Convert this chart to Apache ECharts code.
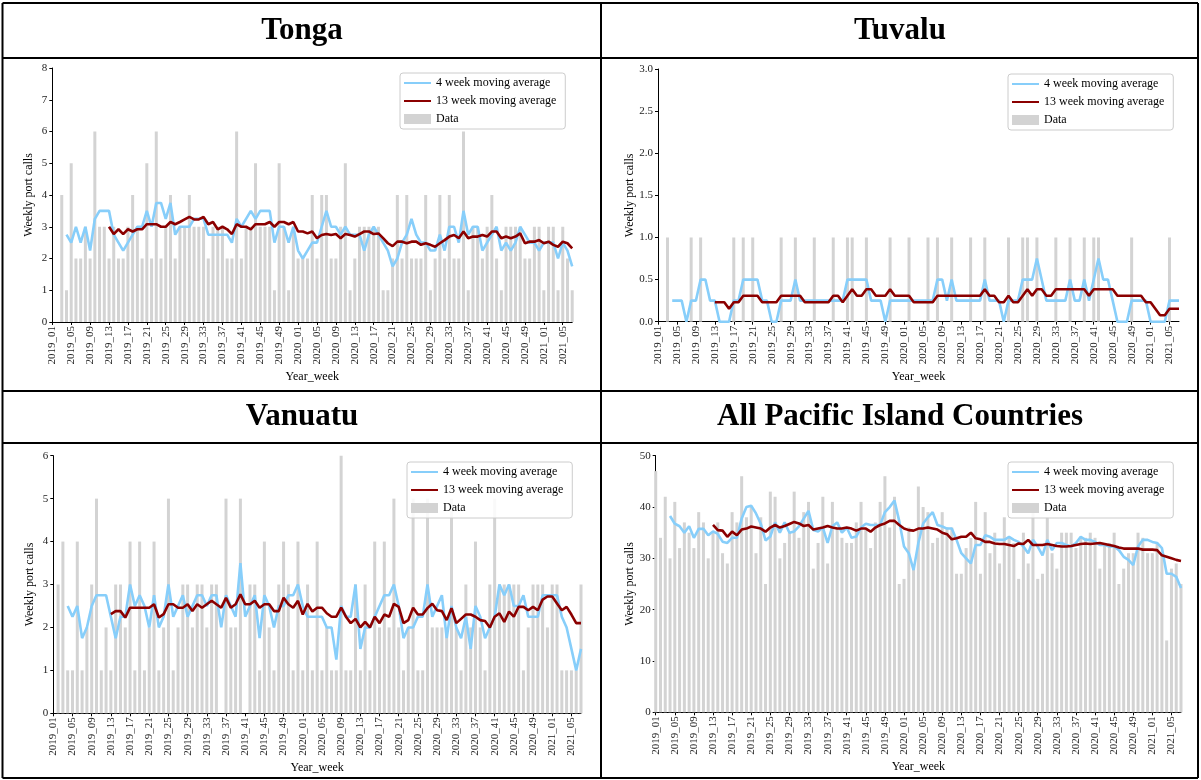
<!DOCTYPE html>
<html><head><meta charset="utf-8">
<script src="https://cdn.jsdelivr.net/npm/echarts@6/dist/echarts.min.js"></script>
<style>html,body{margin:0;padding:0;background:#fff}#c{width:1201px;height:780px}</style>
</head><body><div id="c"></div>
<script>
const weeks = ["2019_01","2019_02","2019_03","2019_04","2019_05","2019_06","2019_07","2019_08","2019_09","2019_10","2019_11","2019_12","2019_13","2019_14","2019_15","2019_16","2019_17","2019_18","2019_19","2019_20","2019_21","2019_22","2019_23","2019_24","2019_25","2019_26","2019_27","2019_28","2019_29","2019_30","2019_31","2019_32","2019_33","2019_34","2019_35","2019_36","2019_37","2019_38","2019_39","2019_40","2019_41","2019_42","2019_43","2019_44","2019_45","2019_46","2019_47","2019_48","2019_49","2019_50","2019_51","2019_52",
"2020_01","2020_02","2020_03","2020_04","2020_05","2020_06","2020_07","2020_08","2020_09","2020_10","2020_11","2020_12","2020_13","2020_14","2020_15","2020_16","2020_17","2020_18","2020_19","2020_20","2020_21","2020_22","2020_23","2020_24","2020_25","2020_26","2020_27","2020_28","2020_29","2020_30","2020_31","2020_32","2020_33","2020_34","2020_35","2020_36","2020_37","2020_38","2020_39","2020_40","2020_41","2020_42","2020_43","2020_44","2020_45","2020_46","2020_47","2020_48","2020_49","2020_50","2020_51","2020_52",
"2021_01","2021_02","2021_03","2021_04","2021_05","2021_06","2021_07"];

// Tonga
const tongaData = [0,0,4,1,5,2,2,3,2,6, 3,3,2,3,2,2,3,4,3,2, 5,2,6,2,3,4,2,3,3,4, 3,3,3,2,3,3,3,2,2,6, 2,3,3,5,3,3,3,1,5,3, 1,3,2,2,2,4,2,4,4,2, 2,3,5,1,2,3,3,3,3,3, 1,1,2,4,2,4,2,2,2,4, 1,2,4,2,4,2,2,6,1,3, 3,2,3,4,2,1,3,3,3,3, 2,2,3,3,1,3,3,1,3,2, 1];
const tongaMA4 = [2.75,2.5,3.0,2.5,3.0,2.25,3.25,3.5,3.5,3.5, 2.75,2.5,2.25,2.5,2.75,3.0,3.0,3.5,3.0,3.75, 3.75,3.25,3.75,2.75,3.0,3.0,3.0,3.25,3.25,3.25, 2.75,2.75,2.75,2.75,2.75,2.5,3.25,3.0,3.25,3.5, 3.25,3.5,3.5,3.5,2.5,3.0,3.0,2.5,3.0,2.25, 2.0,2.25,2.5,2.5,3.0,3.5,3.0,3.0,2.75,3.0, 2.75,2.75,2.75,2.25,2.75,3.0,2.75,2.5,2.25,1.75, 2.0,2.5,2.75,3.25,2.75,2.5,2.5,2.25,2.25,2.75, 2.25,3.0,3.0,2.5,3.5,2.75,3.0,3.0,2.25,2.5, 2.75,3.0,2.25,2.5,2.25,2.5,3.0,2.75,2.5,2.5, 2.25,2.5,2.5,2.5,2.0,2.5,2.25,1.75];
const tongaMA13 = [3.0,2.77,2.92,2.77,2.92,2.85,2.92,2.92,3.08,3.08, 3.08,3.0,3.0,3.15,3.08,3.15,3.23,3.31,3.23,3.23, 3.31,3.08,3.15,2.92,3.0,2.92,2.77,3.08,3.0,3.0, 2.92,3.08,3.08,3.08,3.15,3.0,3.15,3.15,3.08,3.15, 2.85,2.85,2.79,2.85,2.64,2.74,2.77,2.74,2.77,2.64, 2.77,2.74,2.69,2.77,2.85,2.85,2.77,2.79,2.64,2.48, 2.39,2.53,2.53,2.48,2.53,2.53,2.43,2.48,2.43,2.37, 2.48,2.58,2.69,2.74,2.64,2.85,2.64,2.69,2.69,2.74, 2.69,2.85,2.85,2.64,2.69,2.64,2.69,2.79,2.48,2.53, 2.53,2.58,2.48,2.53,2.43,2.37,2.53,2.48,2.32];

// Tuvalu
const tuvaluData = [0,0,1,0,0,0,0,1,0,1, 0,0,0,0,0,0,1,0,1,0, 1,0,0,0,0,0,1,0,0,1, 0,0,0,1,0,0,0,1,0,0, 1,1,0,0,1,0,0,0,0,1, 0,0,0,1,0,0,0,1,0,1, 0,0,1,0,0,0,1,0,0,1, 0,0,0,0,1,0,0,1,1,0, 1,0,0,0,1,0,0,1,0,0, 1,0,1,1,0,0,0,0,0,0, 1,0,0,0,0,0,0,0,1,0, 0];
const tuvaluMA4 = [0.25,0.25,0.25,0,0.25,0.25,0.5,0.5,0.25,0.25, 0,0,0,0.25,0.25,0.5,0.5,0.5,0.5,0.25, 0.25,0,0,0.25,0.25,0.25,0.5,0.25,0.25,0.25, 0.25,0.25,0.25,0.25,0.25,0.25,0.25,0.5,0.5,0.5, 0.5,0.5,0.25,0.25,0.25,0,0.25,0.25,0.25,0.25, 0.25,0.25,0.25,0.25,0.25,0.25,0.5,0.5,0.25,0.5, 0.25,0.25,0.25,0.25,0.25,0.25,0.5,0.25,0.25,0.25, 0,0.25,0.25,0.25,0.5,0.5,0.5,0.75,0.5,0.25, 0.25,0.25,0.25,0.25,0.5,0.25,0.25,0.5,0.25,0.5, 0.75,0.5,0.5,0.25,0,0,0,0.25,0.25,0.25, 0.25,0,0,0,0,0.25,0.25,0.25];
const tuvaluMA13 = [0.231,0.231,0.231,0.154,0.231,0.231,0.308,0.308,0.308,0.308, 0.231,0.231,0.231,0.231,0.308,0.308,0.308,0.308,0.308,0.231, 0.231,0.231,0.231,0.231,0.231,0.308,0.308,0.231,0.308,0.385, 0.308,0.308,0.385,0.385,0.308,0.308,0.308,0.385,0.308,0.308, 0.308,0.308,0.231,0.231,0.231,0.231,0.231,0.308,0.308,0.308, 0.308,0.308,0.308,0.308,0.308,0.308,0.308,0.385,0.308,0.308, 0.231,0.231,0.308,0.231,0.231,0.308,0.385,0.308,0.385,0.385, 0.308,0.308,0.385,0.385,0.385,0.385,0.385,0.385,0.385,0.308, 0.385,0.385,0.385,0.385,0.385,0.308,0.308,0.308,0.308,0.308, 0.308,0.231,0.231,0.154,0.077,0.077,0.154,0.154,0.154];

// Vanuatu
const vanuatuData = [0,3,4,1,1,4,1,2,3,5, 1,2,1,3,3,2,4,1,4,1, 2,4,1,2,5,1,2,3,3,2, 3,3,2,3,3,0,5,2,2,5, 0,3,3,1,4,2,1,3,4,3, 1,4,1,3,1,4,1,2,1,1, 6,1,1,3,1,3,1,4,2,4, 2,5,2,1,2,5,1,1,5,2, 2,2,2,5,2,1,3,2,4,2, 1,3,5,3,3,3,3,3,1,2, 3,3,3,2,3,3,1,1,1,1, 3];
const vanuatuMA4 = [2.5,2.25,2.5,1.75,2.0,2.5,2.75,2.75,2.75,2.25, 1.75,2.25,2.25,3.0,2.5,2.75,2.5,2.0,2.75,2.0, 2.25,3.0,2.25,2.5,2.75,2.25,2.5,2.75,2.75,2.5, 2.75,2.75,2.0,2.75,2.5,2.25,3.5,2.25,2.5,2.75, 1.75,2.75,2.5,2.0,2.5,2.5,2.75,2.75,3.0,2.5, 2.25,2.25,2.25,2.25,2.0,2.0,1.25,2.5,2.25,2.25, 3.0,1.5,2.0,2.0,2.25,2.5,2.75,2.75,3.0,2.5, 1.75,2.0,2.0,2.25,2.25,3.0,2.25,2.5,2.75,1.75, 2.5,2.0,1.75,2.25,1.5,2.5,2.25,1.75,2.0,2.25, 3.0,2.75,3.0,2.5,2.5,2.75,2.25,2.25,2.25,2.75, 2.75,2.75,2.75,2.25,2.0,1.5,1.0,1.5];
const vanuatuMA13 = [2.31,2.38,2.38,2.23,2.46,2.46,2.46,2.46,2.46,2.54, 2.23,2.31,2.54,2.54,2.46,2.46,2.54,2.38,2.54,2.46, 2.54,2.62,2.54,2.46,2.69,2.46,2.54,2.77,2.54,2.54, 2.62,2.46,2.54,2.54,2.38,2.38,2.69,2.54,2.46,2.62, 2.3,2.55,2.37,2.46,2.46,2.33,2.25,2.25,2.46,2.25, 2.1,2.2,2.0,2.13,2.0,2.25,2.1,2.3,2.25,2.55, 2.48,2.1,2.17,2.46,2.3,2.3,2.45,2.55,2.4,2.38, 2.17,2.45,2.1,2.2,2.3,2.3,2.25,2.17,2.15,2.0, 2.25,2.33,2.13,2.37,2.25,2.48,2.48,2.4,2.48,2.4, 2.65,2.72,2.72,2.56,2.4,2.48,2.3,2.1,2.1];

// All Pacific Island Countries
const picData = [47,34,42,30,41,32,37,35,32,39, 37,30,35,37,31,29,39,37,46,38, 40,31,38,25,43,42,30,33,35,43, 34,39,41,28,33,42,29,41,36,34, 33,33,37,41,36,32,37,41,46,36, 42,25,26,36,28,44,40,39,33,34, 39,36,36,27,27,32,34,41,27,39, 31,35,29,38,34,33,26,35,29,40, 26,27,38,31,28,35,35,35,32,34, 34,35,34,28,33,33,35,25,28,31, 31,35,34,31,31,33,31,14,28,29, 25];
const picMA4 = [38.25,36.75,36.25,35,36.25,34,35.75,35.75,34.5,35.25, 34.75,33.25,33,34,34,37.75,40,40.25,38.75,36.75, 33.5,34.25,37,35,37,35,35.25,36.25,37.75,39.25, 35.5,35.25,36,33,36.25,37,35,36,34,34.25, 36,36.75,36.5,36.5,36.5,39,40,41.25,37.25,32.3, 31,27.7,33,36.8,38,39,36.5,36.2,35.8,35.8, 33.6,31,30,29,32.6,32.6,34.5,34.2,33.6,33.6, 33.6,34.2,33.6,33.2,32.3,31,33.6,32.3,30.6,33.6, 31.6,33,33,32.6,32.3,33,34.2,33.6,33.6,33.2, 32.6,32.6,32.3,32.3,31.6,30.3,29.7,28.7,32.3,33.6, 33.6,33.2,33,32,27,27,26.4,24.2];
const picMA13 = [36.5,35.5,35.4,34.2,35.2,34.5,35.6,35.8,36.2,36, 35.8,35.2,36,36.5,36,36.3,36.7,37.1,36.8,36.3, 36.5,35.6,35.8,36,36.3,36,35.8,35.8,36,35.8, 35.4,35.8,35.8,35.2,36,36.5,36.8,37.3,37.3,36.5, 35.8,35.5,35.4,35.8,35.8,36,35.8,35.6,35,34.7, 33.7,33.9,34.2,34.2,35,33.9,33.7,33.2,33.2,32.9, 32.8,32.8,32.6,32.4,32.9,32.8,33.6,32.6,32.6,32.6, 32.8,32.6,32.4,32.3,32.3,32.4,32.6,32.8,32.9,32.8, 32.9,33,32.8,32.6,32.4,32.1,31.9,31.9,31.9,31.9, 31.7,31.7,31.7,31.6,30.6,30.3,30,29.7,29.5];

const titles = ["Tonga","Tuvalu","Vanuatu","All Pacific Island Countries"];
const yMax = [8, 3, 6, 50];
const yStep = [1, 0.5, 1, 10];

const FONT = "'Liberation Serif','Times New Roman',serif";
const pad = (arr, n) => Array(n).fill(null).concat(arr);

const panels = [
  {grid:{left:52.3, top:68, width:519.9, height:254}, legend:{left:400, top:73}, data:tongaData, ma4:tongaMA4, ma13:tongaMA13},
  {grid:{left:658, top:69, width:521, height:252.7}, legend:{left:1008, top:74}, data:tuvaluData, ma4:tuvaluMA4, ma13:tuvaluMA13},
  {grid:{left:53.3, top:455.7, width:527.7, height:257.6}, legend:{left:407, top:462}, data:vanuatuData, ma4:vanuatuMA4, ma13:vanuatuMA13},
  {grid:{left:655.7, top:455.7, width:525.3, height:256.6}, legend:{left:1008, top:462}, data:picData, ma4:picMA4, ma13:picMA13}
];

const NAME4 = "4 week moving average", NAME13 = "13 week moving average", NAMED = "Data";
const option = {animation:false, backgroundColor:'#fff', grid:[], xAxis:[], yAxis:[], series:[], legend:[], graphic:[]};

panels.forEach((p, k) => {
  option.grid.push(Object.assign({containLabel:false}, p.grid));
  option.xAxis.push({
    type:'category', gridIndex:k, data:weeks, boundaryGap:false,
    name:'Year_week', nameLocation:'middle', nameGap:49,
    nameTextStyle:{fontFamily:FONT, fontSize:12, color:'#000'},
    axisLine:{lineStyle:{color:'#000', width:1}},
    axisTick:{interval:3, length:3, lineStyle:{color:'#000'}},
    axisLabel:{interval:3, rotate:90, fontFamily:FONT, fontSize:11, color:'#222', margin:4},
    splitLine:{show:false}
  });
  option.yAxis.push({
    type:'value', gridIndex:k, min:0, max:yMax[k], interval:yStep[k],
    name:'Weekly port calls', nameLocation:'middle', nameGap:17,
    nameTextStyle:{fontFamily:FONT, fontSize:12, color:'#000'},
    axisLine:{show:true, lineStyle:{color:'#000', width:1}},
    axisTick:{show:true, length:3, lineStyle:{color:'#000'}},
    axisLabel:{fontFamily:FONT, fontSize:11, color:'#222', margin:5,
      formatter: v => (yStep[k] < 1 ? v.toFixed(1) : String(v))},
    splitLine:{show:false}
  });
  option.series.push({type:'bar', name:NAMED, xAxisIndex:k, yAxisIndex:k, data:p.data, barWidth:3, itemStyle:{color:'#d3d3d3'}, z:1});
  option.series.push({type:'line', name:NAME4, xAxisIndex:k, yAxisIndex:k, data:pad(p.ma4,3), symbol:'none', lineStyle:{color:'#87cefa', width:2.6}, itemStyle:{color:'#87cefa'}, z:2});
  option.series.push({type:'line', name:NAME13, xAxisIndex:k, yAxisIndex:k, data:pad(p.ma13,12), symbol:'none', lineStyle:{color:'#8b0000', width:2.6}, itemStyle:{color:'#8b0000'}, z:3});
  option.legend.push({
    left:p.legend.left, top:p.legend.top, orient:'vertical', selectedMode:false,
    data:[{name:NAME4, itemStyle:{opacity:0}}, {name:NAME13, itemStyle:{opacity:0}}, {name:NAMED, icon:'rect'}],
    itemWidth:27, itemHeight:10, itemGap:6,
    padding:[4,9,4,3], borderColor:'#cccccc', borderWidth:1, borderRadius:3, backgroundColor:'rgba(255,255,255,0.85)',
    textStyle:{fontFamily:FONT, fontSize:12, color:'#000'}
  });
});

// table borders
const L = (x1,y1,x2,y2) => ({type:'line', shape:{x1,y1,x2,y2}, style:{stroke:'#000', lineWidth:2}, z:100});
option.graphic.push(L(2.5,3,1198,3), L(2.5,58,1198,58), L(2.5,391,1198,391), L(2.5,443,1198,443), L(2.5,778,1198,778),
  L(2.5,3,2.5,778), L(601,3,601,778), L(1198,3,1198,778));
const tpos = [[302,31],[900,31],[302,417],[900,417]];
titles.forEach((t,i) => option.graphic.push({type:'text', x:tpos[i][0], y:tpos[i][1], style:{text:t, font:"bold 31px 'Liberation Serif', serif", fill:'#000', textAlign:'center', textVerticalAlign:'middle'}, z:100}));

echarts.init(document.getElementById('c'), null, {renderer:'canvas'}).setOption(option);
</script></body></html>
